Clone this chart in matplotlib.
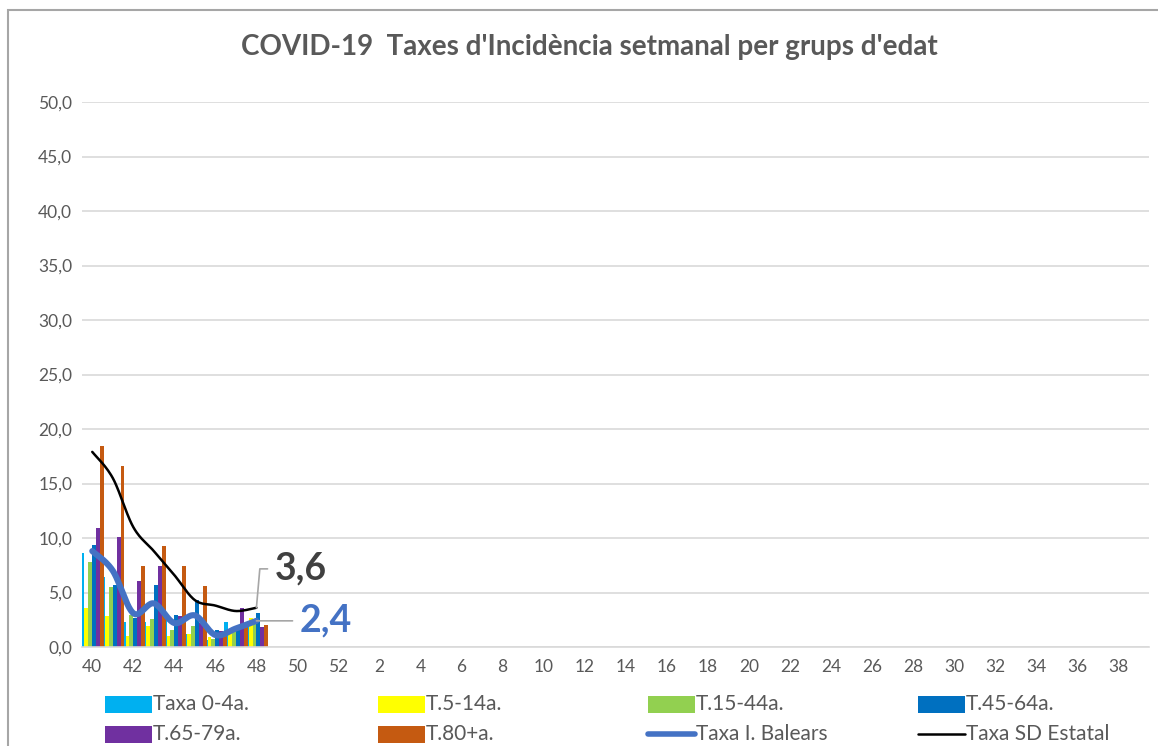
import numpy as np
import matplotlib
matplotlib.use("Agg")
import matplotlib.pyplot as plt
from matplotlib.patches import Rectangle
from matplotlib.lines import Line2D
from matplotlib.ticker import FuncFormatter, MultipleLocator

plt.rcParams['font.family'] = ['Lato', 'DejaVu Sans']

# ---- data ----
weeks = list(range(40, 53)) + list(range(1, 40))
title = "COVID-19  Taxes d'Incidència setmanal per grups d'edat"
series_names = ["Taxa 0-4a.", "T.5-14a.", "T.15-44a.", "T.45-64a.", "T.65-79a.", "T.80+a."]
taxa_0_4 = [8.6, 6.4, 2.3, 2.3, 2.8, 1.2, 0.6, 2.3, 2.0]
taxa_5_14 = [3.6, 2.8, 1.0, 1.9, 1.0, 1.2, 0.9, 1.3, 2.7]
taxa_15_44 = [7.8, 5.5, 2.9, 2.6, 1.6, 1.9, 0.7, 1.8, 2.3]
taxa_45_64 = [9.4, 5.7, 2.7, 5.7, 2.9, 4.3, 1.6, 1.9, 3.1]
taxa_65_79 = [10.9, 10.1, 6.1, 7.4, 2.8, 2.2, 1.5, 3.6, 1.8]
taxa_80 = [18.4, 16.6, 7.4, 9.3, 7.4, 5.6, 1.4, 2.2, 2.0]
balears = [8.8, 7.0, 3.1, 4.0, 2.2, 2.9, 1.1, 1.7, 2.4]
estatal = [17.9, 15.5, 11.0, 8.8, 6.6, 4.3, 3.8, 3.3, 3.6]
line_names = ["Taxa I. Balears", "Taxa SD Estatal"]

bar_colors = ["#00B0F0", "#FFFF00", "#92D050", "#0070C0", "#7030A0", "#C55A11"]
bal_color = "#4472C4"
est_color = "#000000"
text_gray = "#595959"


def smooth(x, y, n=24, tension=0.5):
    """Cardinal-spline rendering of a polyline (display smoothing only)."""
    x = np.asarray(x, float)
    y = np.asarray(y, float)
    px = np.concatenate([[x[0]], x, [x[-1]]])
    py = np.concatenate([[y[0]], y, [y[-1]]])
    xs, ys = [], []
    t = np.linspace(0, 1, n, endpoint=False)
    h00 = 2 * t ** 3 - 3 * t ** 2 + 1
    h10 = t ** 3 - 2 * t ** 2 + t
    h01 = -2 * t ** 3 + 3 * t ** 2
    h11 = t ** 3 - t ** 2
    for i in range(1, len(px) - 2):
        for arr, out in ((px, xs), (py, ys)):
            p0, p1, p2, p3 = arr[i - 1], arr[i], arr[i + 1], arr[i + 2]
            m1 = tension * (p2 - p0)
            m2 = tension * (p3 - p1)
            out.extend(h00 * p1 + h10 * m1 + h01 * p2 + h11 * m2)
    xs.append(x[-1]); ys.append(y[-1])
    return np.array(xs), np.array(ys)


W, H = 1158, 746
fig = plt.figure(figsize=(W / 100, H / 100), dpi=100)
# chart frame
fig.patches.append(Rectangle((8 / W, -0.01), 1.1, 1 - 10 / H + 0.01, transform=fig.transFigure,
                             fill=False, edgecolor="#A6A6A6", linewidth=1.5))

ax = fig.add_axes([82 / W, (H - 647) / H, (1149 - 82) / W, (647 - 102) / H])

n = len(weeks)
xi = np.arange(n)
bw = 0.19
all_series = [taxa_0_4, taxa_5_14, taxa_15_44, taxa_45_64, taxa_65_79, taxa_80]
for k, (vals, col) in enumerate(zip(all_series, bar_colors)):
    xs = np.arange(len(vals)) + (k - 2.5) * bw
    ax.bar(xs, vals, width=bw, color=col, zorder=2, linewidth=0)

for vals, col, lw in ((estatal, est_color, 1.8), (balears, bal_color, 4.4)):
    sx, sy = smooth(np.arange(len(vals)), vals)
    ax.plot(sx, sy, color=col, lw=lw, solid_capstyle='round', zorder=4)

ax.set_xlim(-0.5, n - 0.5)
ax.set_ylim(0, 50)
ax.yaxis.set_major_locator(MultipleLocator(5))
ax.yaxis.set_major_formatter(FuncFormatter(lambda v, p: f"{v:.1f}".replace('.', ',')))
ax.set_xticks(xi[::2])
ax.set_xticklabels([str(w) for w in weeks[::2]])
ax.grid(axis='y', color="#D9D9D9", lw=1.2, zorder=0)
ax.set_axisbelow(True)
for s in ("top", "right", "left"):
    ax.spines[s].set_visible(False)
ax.spines["bottom"].set_color("#D9D9D9")
ax.spines["bottom"].set_linewidth(1.2)
ax.tick_params(axis='both', length=0, labelsize=12.5, colors=text_gray)
ax.tick_params(axis='x', pad=9)
ax.tick_params(axis='y', pad=7)

# data labels for last points
last = len(estatal) - 1
ax.annotate(f"{estatal[-1]:.1f}".replace('.', ','), xy=(last, estatal[-1]),
            xytext=(13, 28), textcoords='offset points', ha='left', va='center',
            fontsize=27, fontweight='bold', color="#404040",
            arrowprops=dict(arrowstyle='-', color="#A6A6A6", lw=1.2, relpos=(0, 0.5),
                            shrinkA=3, shrinkB=0,
                            connectionstyle="angle,angleA=0,angleB=85,rad=0"), zorder=6)
ax.annotate(f"{balears[-1]:.1f}".replace('.', ','), xy=(last, balears[-1]),
            xytext=(31, 0), textcoords='offset points', ha='left', va='center',
            fontsize=27, fontweight='bold', color=bal_color,
            arrowprops=dict(arrowstyle='-', color="#A6A6A6", lw=1.2, relpos=(0, 0.5),
                            shrinkA=3, shrinkB=0), zorder=6)

fig.text(589 / W, 1 - 47 / H, title, ha='center', va='center', fontsize=20,
         fontweight='bold', color=text_gray)

# legend (4 columns x 2 rows)
col_x = [105, 378, 648, 918]
row_y = [704, 734]
labels = series_names + line_names
for i, lab in enumerate(labels):
    r, c = divmod(i, 4)
    x0 = col_x[c] / W
    y0 = 1 - row_y[r] / H
    if i < 6:
        fig.patches.append(Rectangle((x0, y0 - 8.5 / H), 47 / W, 17 / H, transform=fig.transFigure,
                                     facecolor=bar_colors[i], edgecolor='none'))
    else:
        col, lw = (bal_color, 4.0) if i == 6 else (est_color, 1.8)
        fig.lines.append(Line2D([x0, x0 + 47 / W], [y0, y0], transform=fig.transFigure,
                                color=col, lw=lw, solid_capstyle='round'))
    fig.text(x0 + 48 / W, y0, lab, ha='left', va='center', fontsize=15, color=text_gray)

fig.savefig("out.png", dpi=100)
